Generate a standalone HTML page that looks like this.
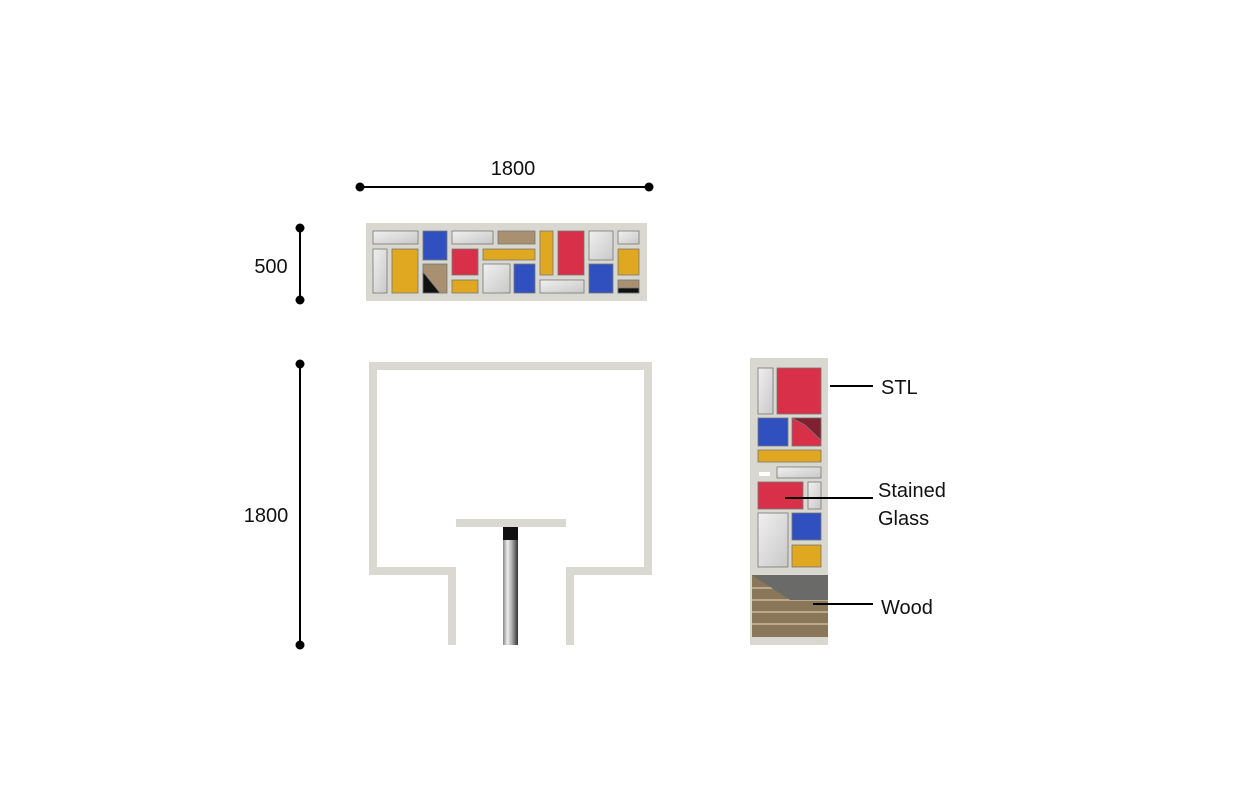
<!DOCTYPE html>
<html><head><meta charset="utf-8"><style>
body{margin:0;background:#fff;}
svg text{font-family:"Liberation Sans","Noto Sans CJK KR",sans-serif;font-size:20px;fill:#111;}
</style></head><body>
<svg width="1241" height="784" viewBox="0 0 1241 784" xmlns="http://www.w3.org/2000/svg">
<defs>
<linearGradient id="pole" x1="0" x2="1"><stop offset="0" stop-color="#888"/><stop offset="0.3" stop-color="#eee"/><stop offset="0.6" stop-color="#aaa"/><stop offset="1" stop-color="#333"/></linearGradient>
<linearGradient id="gr" x1="0" y1="0" x2="1" y2="1"><stop offset="0" stop-color="#f0f0f0"/><stop offset="1" stop-color="#c8c8c8"/></linearGradient>
</defs>
<!-- dimensions -->
<g stroke="#000" stroke-width="2">
<line x1="360" y1="187" x2="649" y2="187"/>
<line x1="300" y1="228" x2="300" y2="300"/>
<line x1="300" y1="364" x2="300" y2="645"/>
</g>
<g fill="#000">
<circle cx="360" cy="187" r="4.5"/><circle cx="649" cy="187" r="4.5"/>
<circle cx="300" cy="228" r="4.5"/><circle cx="300" cy="300" r="4.5"/>
<circle cx="300" cy="364" r="4.5"/><circle cx="300" cy="645" r="4.5"/>
</g>
<text x="513" y="175" text-anchor="middle">1800</text>
<text x="271" y="273" text-anchor="middle">500</text>
<text x="266" y="522" text-anchor="middle">1800</text>

<!-- top panel -->
<rect x="366" y="223" width="281" height="78" fill="#d8d8d0"/>
<g stroke="#777" stroke-width="0.8">
<rect x="373" y="231" width="45" height="13" fill="url(#gr)"/>
<rect x="373" y="249" width="14" height="44" fill="url(#gr)"/>
<rect x="392" y="249" width="26" height="44" fill="#e0a820"/>
<rect x="423" y="231" width="24" height="29" fill="#3050c0"/>
<rect x="423" y="264" width="24" height="29" fill="#a89070"/>
<polygon points="423,272 440,293 423,293" fill="#111"/>
<rect x="452" y="231" width="41" height="13" fill="url(#gr)"/>
<rect x="498" y="231" width="37" height="13" fill="#a89070"/>
<rect x="452" y="249" width="26" height="26" fill="#d83048"/>
<rect x="452" y="280" width="26" height="13" fill="#e0a820"/>
<rect x="483" y="249" width="52" height="11" fill="#e0a820"/>
<rect x="483" y="264" width="27" height="29" fill="url(#gr)"/>
<rect x="514" y="264" width="21" height="29" fill="#3050c0"/>
<rect x="540" y="231" width="13" height="44" fill="#e0a820"/>
<rect x="558" y="231" width="26" height="44" fill="#d83048"/>
<rect x="540" y="280" width="44" height="13" fill="url(#gr)"/>
<rect x="589" y="231" width="24" height="29" fill="url(#gr)"/>
<rect x="589" y="264" width="24" height="29" fill="#3050c0"/>
<rect x="618" y="231" width="21" height="13" fill="url(#gr)"/>
<rect x="618" y="249" width="21" height="26" fill="#e0a820"/>
<rect x="618" y="280" width="21" height="13" fill="#a89070"/>
<rect x="618" y="288" width="21" height="5" fill="#111"/>
</g>

<!-- front frame -->
<polyline points="452,645 452,571 373,571 373,366 648,366 648,571 570,571 570,645" fill="none" stroke="#d9d9d1" stroke-width="8"/>
<rect x="456" y="519" width="110" height="8" fill="#d9d9d1"/>
<rect x="503" y="527" width="15" height="118" fill="url(#pole)"/>
<rect x="503" y="527" width="15" height="13" fill="#111"/>

<!-- side panel -->
<rect x="750" y="358" width="78" height="287" fill="#d8d8d0"/>
<g stroke="#777" stroke-width="0.8">
<rect x="758" y="368" width="15" height="46" fill="url(#gr)"/>
<rect x="777" y="368" width="44" height="46" fill="#d83048"/>
<rect x="758" y="418" width="30" height="28" fill="#3050c0"/>
<rect x="792" y="418" width="29" height="28" fill="#d83048"/>
<polygon points="792,418 821,418 821,440 805,425" fill="#802030"/>
<rect x="758" y="450" width="63" height="12" fill="#e0a820"/>
<rect x="777" y="467" width="44" height="11" fill="url(#gr)"/>
<rect x="758" y="482" width="45" height="27" fill="#d83048"/>
<rect x="808" y="482" width="13" height="27" fill="url(#gr)"/>
<rect x="758" y="513" width="30" height="54" fill="url(#gr)"/>
<rect x="792" y="513" width="29" height="27" fill="#3050c0"/>
<rect x="792" y="545" width="29" height="22" fill="#e0a820"/>
</g>
<rect x="759" y="472" width="11" height="4" fill="#fff"/>
<rect x="752" y="575" width="76" height="62" fill="#8a7658"/>
<g stroke="#d8c8a8" stroke-width="1.2">
<line x1="752" y1="588" x2="828" y2="588"/><line x1="752" y1="600" x2="828" y2="600"/>
<line x1="752" y1="612" x2="828" y2="612"/><line x1="752" y1="624" x2="828" y2="624"/>
</g>
<polygon points="752,575 828,575 828,600 790,600" fill="#6a6a68"/>

<!-- callouts -->
<g stroke="#000" stroke-width="2">
<line x1="830" y1="386" x2="873" y2="386"/>
<line x1="785" y1="498" x2="873" y2="498"/>
<line x1="813" y1="604" x2="873" y2="604"/>
</g>
<text x="881" y="394">STL</text>
<text x="878" y="497">Stained</text>
<text x="878" y="525">Glass</text>
<text x="881" y="614">Wood</text>
</svg>
</body></html>
